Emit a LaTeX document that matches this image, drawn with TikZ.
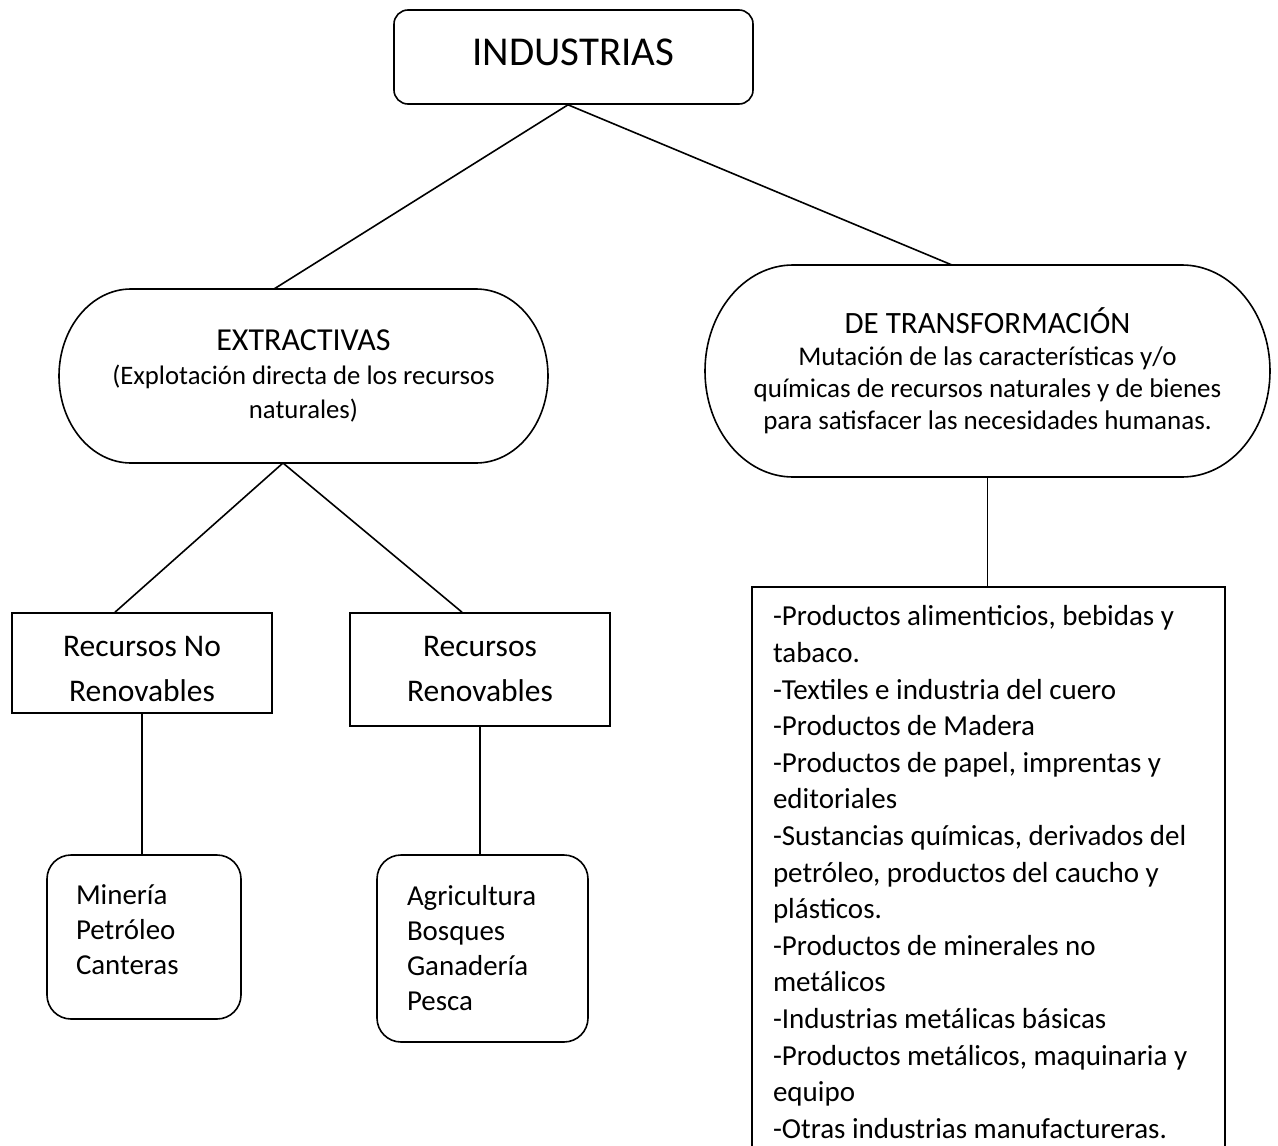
\documentclass[tikz,border=0pt]{standalone}
\usepackage{fontspec}
\setmainfont{Carlito}

% outline of a terminator shape round a node: name, x radius, y radius
\newcommand\termoutline[3]{%
  \draw ([xshift=#2]#1.north west) -- ([xshift=-#2]#1.north east)
    arc[start angle=90, end angle=-90, x radius=#2, y radius=#3]
    -- ([xshift=#2]#1.south west)
    arc[start angle=270, end angle=90, x radius=#2, y radius=#3] -- cycle;}

\begin{document}
\begin{tikzpicture}[x=1pt, y=-1pt, line width=1.6pt,
    boxnode/.style={draw, rectangle, inner sep=0pt, align=center},
    roundbox/.style={draw, rectangle, rounded corners=24pt, inner sep=0pt, align=flush left},
    termnode/.style={rectangle, inner sep=0pt, outer sep=0pt, align=center}
    ]
    \path [fill=white, use as bounding box] (0,0) rectangle (1278,1146);

    \node [boxnode, rounded corners=14pt, minimum width=359pt, minimum height=94pt, text depth=9pt,
           font=\fontsize{41}{48}\selectfont] (ind) at (573.5,57) {INDUSTRIAS};

    \node [termnode, minimum width=489pt, minimum height=174pt,
           font=\fontsize{26.7}{34}\selectfont] (ext) at (303.5,376)
          {{\fontsize{32}{35}\selectfont EXTRACTIVAS}\\(Explotación directa de los recursos\\naturales)};
    \termoutline{ext}{72pt}{87pt}

    \node [termnode, minimum width=565pt, minimum height=212pt,
           font=\fontsize{27}{32}\selectfont] (trans) at (987.5,371)
          {{\fontsize{31}{34}\selectfont DE TRANSFORMACIÓN}\\Mutación de las características y/o\\químicas de recursos naturales y de bienes\\para satisfacer las necesidades humanas.};
    \termoutline{trans}{88pt}{106pt}

    \node [boxnode, minimum width=260pt, minimum height=100pt, text height=78pt,
           font=\fontsize{31.5}{45}\selectfont] (rnr) at (142,663) {Recursos No\\Renovables};
    \node [boxnode, minimum width=260pt, minimum height=113pt,
           font=\fontsize{31.5}{45}\selectfont] (rr) at (480,669.5) {Recursos\\Renovables};

    \node [roundbox, text width=136pt, minimum width=194pt, minimum height=164pt, text depth=85pt,
           font=\fontsize{28.9}{35}\selectfont] (min) at (144,937) {Minería\\Petróleo\\Canteras};
    \node [roundbox, text width=151pt, minimum width=211pt, minimum height=187pt,
           font=\fontsize{28.9}{35}\selectfont] (agr) at (482.5,948.5) {Agricultura\\Bosques\\Ganadería\\Pesca};

    \node [boxnode, anchor=north, align=flush left, text width=431pt, inner xsep=21pt, inner ysep=19pt,
           font=\fontsize{29}{36.6}\selectfont] (list) at (988.5,586)
          {-Productos alimenticios, bebidas y\\tabaco.\\-Textiles e industria del cuero\\-Productos de Madera\\-Productos de papel, imprentas y\\editoriales\\-Sustancias químicas, derivados del\\petróleo, productos del caucho y\\plásticos.\\-Productos de minerales no\\metálicos\\-Industrias metálicas básicas\\-Productos metálicos, maquinaria y\\equipo\\-Otras industrias manufactureras.};

    \draw ([xshift=-5.5pt]ind.south) -- ([xshift=-29.5pt]ext.north);
    \draw ([xshift=-5.5pt]ind.south) -- ([xshift=-35.5pt]trans.north);
    \draw ([xshift=-20.5pt]ext.south) -- ([xshift=-27pt]rnr.north);
    \draw ([xshift=-20.5pt]ext.south) -- ([xshift=-18pt]rr.north);
    \draw (rnr.south) -- (rnr.south |- min.north);
    \draw (rr.south) -- (rr.south |- agr.north);
    \draw (trans.south) -- (trans.south |- list.north);
\end{tikzpicture}
\end{document}
